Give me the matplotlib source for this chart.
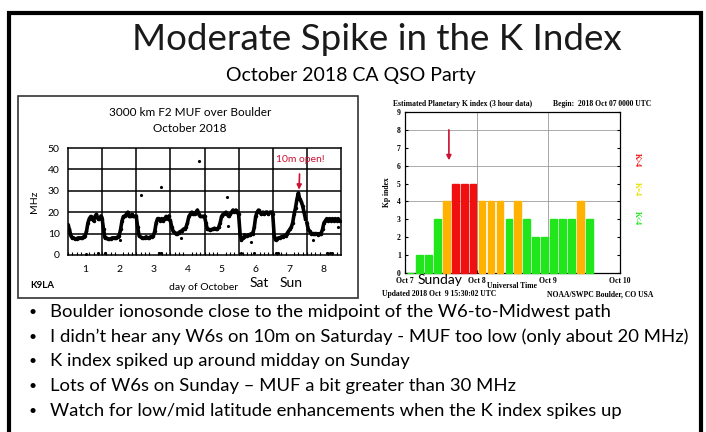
import numpy as np
import matplotlib
matplotlib.use('Agg')
import matplotlib.pyplot as plt
from matplotlib.patches import Rectangle

W, H = 706, 432

# ---- MUF over Boulder, hourly (UTC) per day of October
muf_day1 = [14, 12, 9, 8, 8, 7.5, 7.5, 8, 8, 8, 8, 8.5, 9, 11, 15, 17, 18, 17, 16, 18, 19, 17, 17, 18]
muf_day2 = [17, 12, 8, 8, 7.5, 7.5, 7.5, 8, 8, 8, 8, 8.5, 9, 12, 16, 18, 18, 19, 20, 18, 18, 19, 18, 18]
muf_day3 = [18, 13, 9, 8.5, 8, 8, 8, 8.5, 8, 8, 8.5, 8.5, 9, 11, 15, 17, 17, 16, 17, 16, 17, 18, 17, 18]
muf_day4 = [16, 13, 11, 10.5, 10, 10, 10.5, 11, 11, 12, 12, 13, 15, 18, 19, 20, 19, 19, 20, 21, 19, 18, 18, 18]
muf_day5 = [18, 15, 12, 12, 11.5, 12, 12, 12.5, 12, 12, 13, 15, 18, 19, 19, 20, 19, 18, 19, 20, 21, 20, 21, 20]
muf_day6 = [19, 10, 7, 8, 8.5, 9, 9, 9.5, 9.5, 10, 10, 13, 18, 20, 21, 20, 19, 20, 19, 20, 20, 19, 20, 20]
muf_day7 = [19, 9, 7, 7.5, 8, 8, 8.5, 8.5, 9, 9, 10, 11, 12, 13, 15, 19, 22, 26, 29, 26, 25, 23, 20, 17]
muf_day8 = [15, 12, 11, 10, 10, 10, 10, 10, 9.5, 10, 10, 12, 15, 16, 17, 16, 17, 16, 17, 16, 17, 16, 17, 16]
muf_days = [muf_day1, muf_day2, muf_day3, muf_day4, muf_day5, muf_day6, muf_day7, muf_day8]

# stray ionosonde points (day offset, MHz)
stray_t = [2.15, 2.73, 3.85, 4.66, 0.52, 0.88, 1.07, 2.68, 2.73, 5.07, 5.44, 6.10, 6.15, 7.60, 7.67, 7.75,
           1.51, 3.32, 4.68, 5.15, 5.37, 7.17, 7.90]
stray_v = [28, 32, 44, 27, 0.5, 0.8, 1, 1, 1, 1, 1, 1, 1, 1, 1, 1,
           7, 8, 13.5, 10, 6, 7, 13]

day_labels = ['1', '2', '3', '4', '5', '6', '7', '8']

# ---- Estimated planetary K index, 3-hour slots from Oct 7 00 UTC
kp = [0, 1, 1, 3, 4, 5, 5, 5, 4, 4, 4, 3, 4, 3, 2, 2, 3, 3, 3, 4, 3]
kp_dates = ['Oct 7', 'Oct 8', 'Oct 9', 'Oct 10']

bullets = [
    'Boulder ionosonde close to the midpoint of the W6-to-Midwest path',
    'I didn\u2019t hear any W6s on 10m on Saturday - MUF too low (only about 20 MHz)',
    'K index spiked up around midday on Sunday',
    'Lots of W6s on Sunday \u2013 MUF a bit greater than 30 MHz',
    'Watch for low/mid latitude enhancements when the K index spikes up',
]


def fx(x):
    return x / W


def fy(y):
    return 1 - y / H


def box(x0, y0, x1, y1):
    return [fx(x0), fy(y1), fx(x1) - fx(x0), fy(y0) - fy(y1)]


fig = plt.figure(figsize=(W / 100, H / 100), dpi=100)
fig.patch.set_facecolor('white')

# slide frame and left picture frame
fig.patches.append(Rectangle((fx(9), fy(460)), fx(701) - fx(9), fy(13) - fy(460),
                             transform=fig.transFigure, fill=False, lw=3, ec='black'))
fig.patches.append(Rectangle((fx(18), fy(298)), fx(358) - fx(18), fy(96) - fy(298),
                             transform=fig.transFigure, fill=False, lw=1.2, ec='#333333'))

fig.text(fx(377), fy(40), 'Moderate Spike in the K Index', ha='center', va='center',
         fontsize=26.5, family='Lato', color='#1a1a1a')
fig.text(fx(351), fy(75), 'October 2018 CA QSO Party', ha='center', va='center',
         fontsize=14, family='Lato')

for i, b in enumerate(bullets):
    y = 312 + i * 24.7
    fig.text(fx(33), fy(y), '\u2022', ha='center', va='center', fontsize=10, family='Lato')
    fig.text(fx(50), fy(y), b, ha='left', va='center', fontsize=13.3, family='Lato')

# ---- left chart: MUF
ax = fig.add_axes(box(68, 148, 341, 255))
for d, vals in enumerate(muf_days):
    t = d + np.arange(len(vals)) / len(vals)
    ax.plot(t, vals, color='black', lw=2.6, marker='.', ms=3)
ax.plot(stray_t, stray_v, '.', color='black', ms=2.5)
ax.set_xlim(0, 8)
ax.set_ylim(0, 50)
ax.set_yticks(range(0, 51, 10))
ax.set_xticks(np.arange(8) + 0.5)
ax.set_xticklabels(day_labels)
ax.set_xticks(np.arange(0, 8, 0.125), minor=True)
ax.tick_params(axis='x', which='major', length=0, pad=7, labelsize=7.5)
ax.tick_params(axis='x', which='minor', direction='in', length=2, width=0.8)
ax.tick_params(axis='y', length=0, labelsize=7.5, pad=6)
for lbl in ax.get_xticklabels() + ax.get_yticklabels():
    lbl.set_family('Lato')
for v in range(10, 50, 10):
    ax.axhline(v, color='black', lw=1.1)
for d in range(1, 8):
    ax.axvline(d, color='black', lw=1.1)
for s in ax.spines.values():
    s.set_linewidth(1.1)
ax.set_ylabel('MHz', fontsize=7.5, family='Lato', labelpad=6)
ax.annotate('10m open!', xy=(6.77, 30.5), xytext=(6.8, 44.5), ha='center', va='center',
            fontsize=7.5, family='Lato', color='#cc1133',
            arrowprops=dict(arrowstyle='-|>', color='#cc1133', lw=1.2, mutation_scale=7,
                            shrinkA=5, shrinkB=0))

fig.text(fx(190), fy(113), '3000 km F2 MUF over Boulder', ha='center', va='center',
         fontsize=8.5, family='Lato')
fig.text(fx(190), fy(128), 'October 2018', ha='center', va='center', fontsize=8.5, family='Lato')
fig.text(fx(30), fy(286), 'K9LA', ha='left', va='center', fontsize=7, family='Lato', fontweight='bold')
fig.text(fx(204), fy(287), 'day of October', ha='center', va='center', fontsize=7.5, family='Lato')
fig.text(fx(259), fy(283), 'Sat', ha='center', va='center', fontsize=10, family='Lato')
fig.text(fx(291), fy(283), 'Sun', ha='center', va='center', fontsize=10, family='Lato')

# ---- right chart: Kp index
green, orange, red = '#22e61c', '#ffb300', '#f01010'
cols = [green if v < 4 else (orange if v == 4 else red) for v in kp]
bx = fig.add_axes(box(405, 112, 620, 273))
bars = bx.bar(np.arange(len(kp)) + 0.22, kp, width=0.76, align='edge', color=cols,
              edgecolor=cols, linewidth=1.0, zorder=3)
for b in bars:
    b.set_clip_on(False)
bx.set_xlim(0, 24)
bx.set_ylim(0, 9)
bx.set_yticks(range(10))
bx.set_xticks([0, 8, 16, 24])
bx.set_xticklabels(kp_dates)
for v in (4, 6, 8):
    bx.axhline(v, color='#aaaaaa', lw=0.7, zorder=1)
for v in (8, 16):
    bx.axvline(v, color='#999999', lw=0.6, zorder=1)
bx.tick_params(direction='in', length=2.5, width=0.8, labelsize=5.5, right=True, pad=3)
for lbl in bx.get_xticklabels() + bx.get_yticklabels():
    lbl.set_family('Liberation Serif')
    lbl.set_fontweight('bold')
for s in bx.spines.values():
    s.set_linewidth(0.9)
bx.set_ylabel('Kp index', fontsize=5.5, family='Liberation Serif', fontweight='bold', labelpad=4)
bx.annotate('', xy=(4.9, 6.3), xytext=(4.9, 8.0),
            arrowprops=dict(arrowstyle='-|>', color='#cc1133', lw=1.2, mutation_scale=7,
                            shrinkA=0, shrinkB=0))

serif = dict(family='Liberation Serif', fontweight='bold', fontsize=5.5)
fig.text(fx(393), fy(104), 'Estimated Planetary K index (3 hour data)', ha='left', va='center', **serif)
fig.text(fx(553), fy(104), 'Begin:  2018 Oct 07 0000 UTC', ha='left', va='center', **serif)
fig.text(fx(512), fy(286), 'Universal Time', ha='center', va='center', **serif)
fig.text(fx(382), fy(294), 'Updated 2018 Oct  9 15:30:02 UTC', ha='left', va='center', **serif)
fig.text(fx(653), fy(294), 'NOAA/SWPC Boulder, CO USA', ha='right', va='center', **serif)
fig.text(fx(440), fy(280), 'Sunday', ha='center', va='center', fontsize=10, family='Lato')
fig.text(fx(637), fy(160), 'K>4', ha='center', va='center', rotation=270, color=red, **serif)
fig.text(fx(637), fy(189), 'K=4', ha='center', va='center', rotation=270, color='#e8e000', **serif)
fig.text(fx(637), fy(218), 'K<4', ha='center', va='center', rotation=270, color=green, **serif)

plt.savefig('out.png', dpi=100)
